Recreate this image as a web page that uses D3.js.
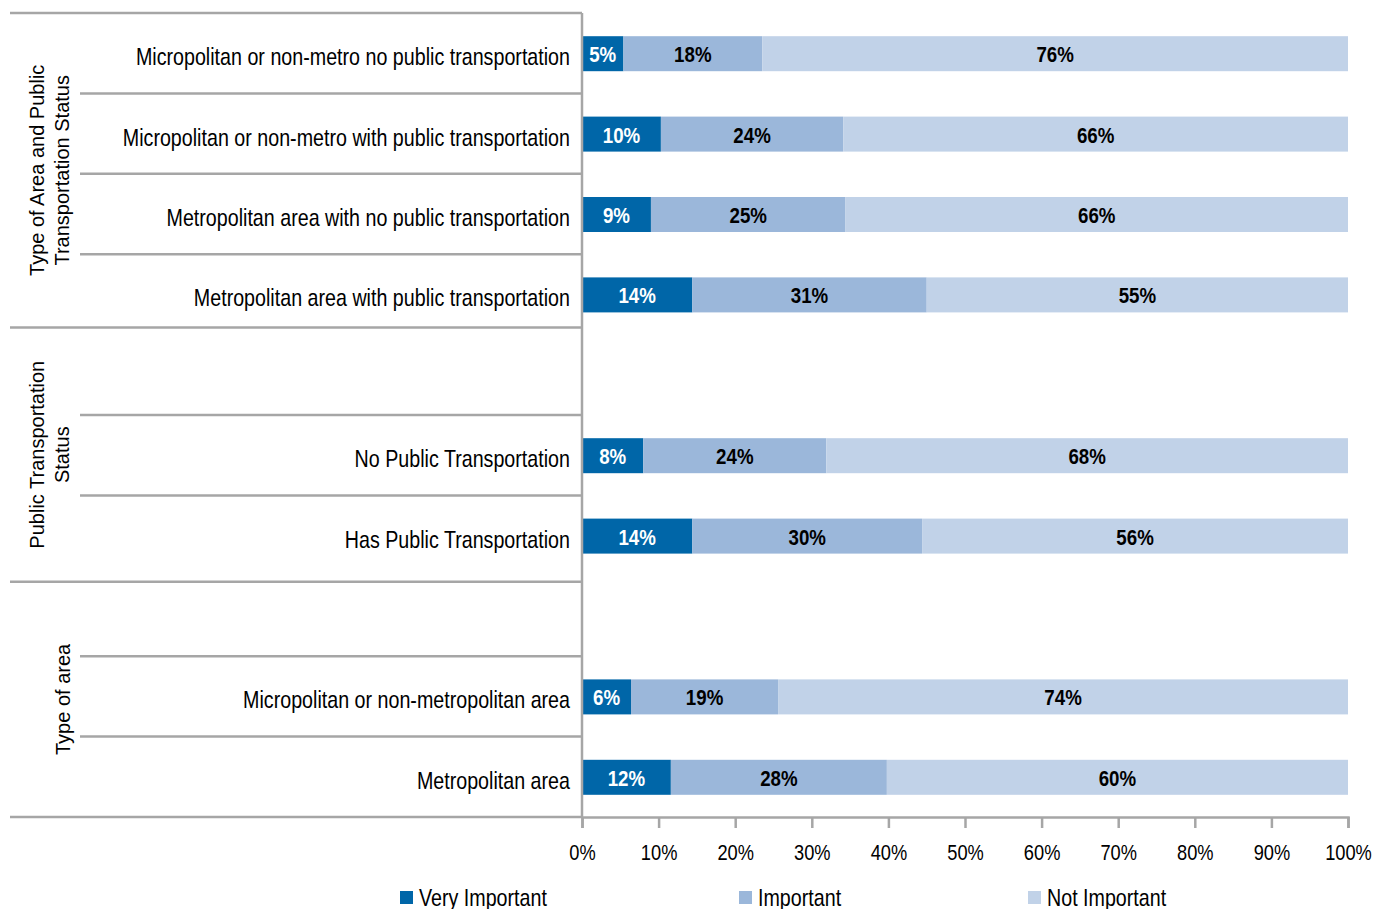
<!DOCTYPE html>
<html>
<head>
<meta charset="utf-8">
<script src="https://cdn.jsdelivr.net/npm/d3@7.9.0/dist/d3.min.js"></script>
<style>
  html, body { margin: 0; padding: 0; background: #fff; }
  svg { display: block; }
  text { font-family: "Liberation Sans", Arial, sans-serif; }
</style>
</head>
<body>
<svg id="chart"></svg>
<script>
// Chart values (percent)
const categories = [
  'Micropolitan or non-metro no public transportation',
  'Micropolitan or non-metro with public transportation',
  'Metropolitan area with no public transportation',
  'Metropolitan area with public transportation',
  'No Public Transportation',
  'Has Public Transportation',
  'Micropolitan or non-metropolitan area',
  'Metropolitan area'
];
const groupOf = [0, 0, 0, 0, 1, 1, 2, 2];
const groupNames = [
  ['Type of Area and Public', 'Transportation Status'],
  ['Public Transportation', 'Status'],
  ['Type of area']
];
const seriesNames = ['Very Important', 'Important', 'Not Important'];
const veryImportant = [5.4, 10.3, 9.0, 14.4, 8.0, 14.4, 6.4, 11.6];
const important     = [18.1, 23.8, 25.4, 30.6, 23.9, 30.0, 19.2, 28.2];
const notImportant  = [76.4, 65.9, 65.6, 55.0, 68.1, 55.6, 74.4, 60.2];
const xTicks = [0, 0.1, 0.2, 0.3, 0.4, 0.5, 0.6, 0.7, 0.8, 0.9, 1];

// slots on the category axis: groups 2 and 3 get an empty slot on top
const slots = ['c0', 'c1', 'c2', 'c3', 'gap1', 'c4', 'c5', 'gap2', 'c6', 'c7'];

const width = 1374;
const height = 909;
const colors = ['#0066a8', '#9bb7da', '#c1d2e8'];
const lineColor = '#a6a6a6';
const narrow = 0.82; // squeeze to look like Arial Narrow

const svg = d3.select('#chart').attr('width', width).attr('height', height);

const plot = { left: 582, right: 1348, top: 13, bottom: 817 };

const rows = categories.map((name, i) => ({
  name,
  slot: 'c' + i,
  group: groupOf[i],
  'Very Important': veryImportant[i],
  'Important': important[i],
  'Not Important': notImportant[i]
}));

const stacked = d3.stack()
  .keys(seriesNames)
  .offset(d3.stackOffsetExpand)(rows);

const x = d3.scaleLinear().domain([0, 1]).range([plot.left, plot.right]);
const y = d3.scaleBand().domain(slots).range([plot.top, plot.bottom]);
const slotH = y.step();
const mid = (s) => y(s) + slotH / 2;

// bars
const layers = svg.append('g').selectAll('g')
  .data(stacked)
  .join('g')
  .attr('fill', (d, i) => colors[i]);

layers.selectAll('rect')
  .data((d) => d)
  .join('rect')
  .attr('x', (d) => x(d[0]))
  .attr('width', (d) => x(d[1]) - x(d[0]))
  .attr('y', (d) => mid(d.data.slot) - 17)
  .attr('height', 35);

// value labels
const labelLayers = svg.append('g').selectAll('g')
  .data(stacked)
  .join('g')
  .attr('fill', (d, i) => (i === 0 ? '#fff' : '#000'));

labelLayers.selectAll('text')
  .data((d) => d.map((v) => ({ v, key: d.key })))
  .join('text')
  .attr('transform', (d) => `translate(${(x(d.v[0]) + x(d.v[1])) / 2},${mid(d.v.data.slot) + 9}) scale(0.85,1)`)
  .attr('text-anchor', 'middle')
  .attr('font-size', 22)
  .attr('font-weight', 'bold')
  .text((d) => Math.round(d.v.data[d.key]) + '%');

// category axis lines
const grid = svg.append('g').attr('stroke', lineColor).attr('stroke-width', 2.5);

grid.append('line')
  .attr('x1', plot.left).attr('x2', plot.left)
  .attr('y1', plot.top).attr('y2', plot.bottom);

// top line and group separators (full width)
const groupBounds = [
  [y('c0'), y('gap1') - 7],
  [y('gap1') - 7, y('gap2') + 6],
  [y('gap2') + 6, plot.bottom]
];
[plot.top, groupBounds[0][1], groupBounds[1][1], plot.bottom].forEach((yy) => {
  grid.append('line')
    .attr('x1', 10).attr('x2', plot.left)
    .attr('y1', yy).attr('y2', yy);
});

// inner separators between categories
const innerLines = ['c1', 'c2', 'c3', 'c4', 'c5', 'c6', 'c7'].map((s) => y(s));
grid.selectAll('line.inner')
  .data(innerLines)
  .join('line')
  .attr('class', 'inner')
  .attr('x1', 80).attr('x2', plot.left)
  .attr('y1', (d) => d).attr('y2', (d) => d);

// category labels
svg.append('g').selectAll('text')
  .data(rows)
  .join('text')
  .attr('transform', (d) => `translate(570,${mid(d.slot) + 12}) scale(${narrow},1)`)
  .attr('text-anchor', 'end')
  .attr('font-size', 24)
  .attr('fill', '#000')
  .text((d) => d.name);

// group labels (rotated)
const gLabels = svg.append('g');
groupNames.forEach((lines, gi) => {
  const cy = (groupBounds[gi][0] + groupBounds[gi][1]) / 2;
  const xs = lines.length === 2 ? [44, 69] : [70];
  lines.forEach((t, li) => {
    gLabels.append('text')
      .attr('transform', `translate(${xs[li]},${cy}) rotate(-90)`)
      .attr('text-anchor', 'middle')
      .attr('font-size', 20)
      .attr('fill', '#000')
      .text(t);
  });
});

// x axis
const xAxis = d3.axisBottom(x)
  .tickValues(xTicks)
  .tickFormat(d3.format('.0%'))
  .tickSize(11)
  .tickPadding(10);

const xg = svg.append('g')
  .attr('transform', `translate(0,${plot.bottom})`)
  .call(xAxis);
xg.select('.domain').attr('stroke', lineColor).attr('stroke-width', 2.5);
xg.selectAll('.tick line').attr('stroke', lineColor).attr('stroke-width', 2.5);
xg.selectAll('.tick text')
  .attr('font-size', 22)
  .attr('fill', '#000')
  .attr('font-family', null)
  .attr('dy', null)
  .attr('y', null)
  .attr('transform', `translate(0,43) scale(0.83,1)`);

// legend
const legendX = [400, 739, 1028];
const legend = svg.append('g').selectAll('g')
  .data(seriesNames)
  .join('g')
  .attr('transform', (d, i) => `translate(${legendX[i]},891)`);
legend.append('rect')
  .attr('width', 13).attr('height', 13)
  .attr('fill', (d, i) => colors[i]);
legend.append('text')
  .attr('transform', `translate(19,15) scale(${narrow},1)`)
  .attr('font-size', 24)
  .attr('fill', '#000')
  .text((d) => d);
</script>
</body>
</html>
